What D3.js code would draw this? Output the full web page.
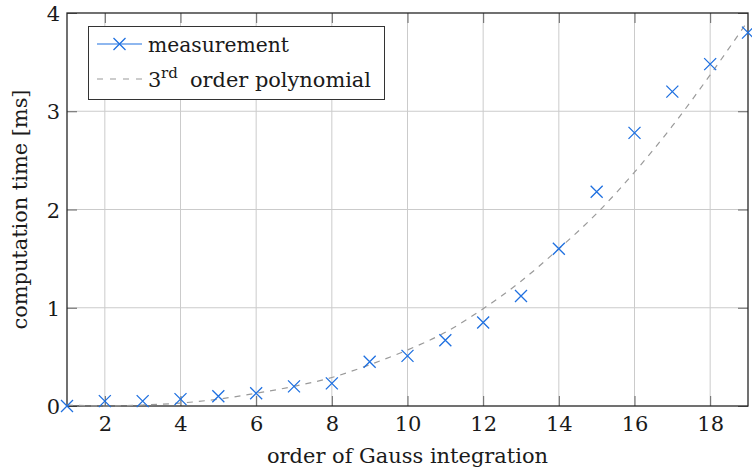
<!DOCTYPE html>
<html>
<head>
<meta charset="utf-8">
<script src="https://cdn.jsdelivr.net/npm/d3@7"></script>
<style>
  html, body { margin: 0; padding: 0; background: #fff; }
  svg { display: block; }
  svg text { font-family: "DejaVu Serif", serif; fill: #1a1a1a; }
</style>
</head>
<body>
<svg id="chart" width="752" height="471"></svg>
<script>
// Gauss integration order vs. measured computation time
const orders = [1, 2, 3, 4, 5, 6, 7, 8, 9, 10, 11, 12, 13, 14, 15, 16, 17, 18, 19];
const measuredMs = [0.00, 0.05, 0.05, 0.07, 0.10, 0.13, 0.20, 0.23, 0.45, 0.51, 0.67, 0.85, 1.12, 1.60, 2.18, 2.78, 3.20, 3.48, 3.80];
// cubic fit evaluated at each order
const fitMs = [0.01, 0.00, 0.01, 0.03, 0.07, 0.13, 0.20, 0.29, 0.42, 0.57, 0.75, 0.99, 1.27, 1.60, 1.96, 2.38, 2.85, 3.37, 3.92];

const xTicks = [2, 4, 6, 8, 10, 12, 14, 16, 18];
const yTicks = [0, 1, 2, 3, 4];
const xLabel = "order of Gauss integration";
const yLabel = "computation time [ms]";
const legendMeasurement = "measurement";

const svg = d3.select("#chart");
const plotLeft = 67, plotRight = 748, plotTop = 13, plotBottom = 406;
const x = d3.scaleLinear().domain([1, 19]).range([plotLeft, plotRight]);
const y = d3.scaleLinear().domain([0, 4]).range([plotBottom, plotTop]);

const blue = "#1f70e0";
const grey = "#9a9a9a";
const tickLen = 10;
const fontSize = "21px";

// grid
const grid = svg.append("g");
grid.selectAll("line.gx").data(xTicks).join("line")
  .attr("x1", d => x(d)).attr("x2", d => x(d))
  .attr("y1", plotTop).attr("y2", plotBottom)
  .attr("stroke", "#cbcbcb").attr("stroke-width", 1);
grid.selectAll("line.gy").data(yTicks.filter(d => d > 0 && d < 4)).join("line")
  .attr("x1", plotLeft).attr("x2", plotRight)
  .attr("y1", d => y(d)).attr("y2", d => y(d))
  .attr("stroke", "#cbcbcb").attr("stroke-width", 1);

// axes with inward ticks on all four sides
function styleAxis(g) {
  g.attr("font-family", null);
  g.select(".domain").remove();
  g.selectAll(".tick line").attr("stroke", "#666").attr("stroke-width", 1);
  g.selectAll(".tick text").style("font-size", fontSize).attr("fill", "#1a1a1a");
}
svg.append("g").attr("transform", `translate(0,${plotBottom})`)
  .call(d3.axisBottom(x).tickValues(xTicks).tickSize(-tickLen).tickPadding(0).tickFormat(d3.format("d")))
  .call(styleAxis)
  .call(g => g.selectAll(".tick text").attr("y", 25).attr("dy", 0));
svg.append("g").attr("transform", `translate(0,${plotTop})`)
  .call(d3.axisTop(x).tickValues(xTicks).tickSize(-tickLen).tickFormat(""))
  .call(styleAxis);
svg.append("g").attr("transform", `translate(${plotLeft},0)`)
  .call(d3.axisLeft(y).tickValues(yTicks).tickSize(-tickLen).tickFormat(d3.format("d")))
  .call(styleAxis)
  .call(g => g.selectAll(".tick text").attr("x", -7).attr("dy", "0.36em"));
svg.append("g").attr("transform", `translate(${plotRight},0)`)
  .call(d3.axisRight(y).tickValues(yTicks).tickSize(-tickLen).tickFormat(""))
  .call(styleAxis);

// frame
svg.append("rect")
  .attr("x", plotLeft).attr("y", plotTop)
  .attr("width", plotRight - plotLeft).attr("height", plotBottom - plotTop)
  .attr("fill", "none").attr("stroke", "#262626").attr("stroke-width", 1.3);

// fitted polynomial
const line = d3.line().x((d, i) => x(orders[i])).y(d => y(d)).curve(d3.curveMonotoneX);
svg.append("path")
  .attr("d", line(fitMs))
  .attr("fill", "none").attr("stroke", grey)
  .attr("stroke-width", 1.2).attr("stroke-dasharray", "6 6");

// measurement markers
const cross = 6;
function drawCross(g, cx, cy) {
  g.append("path")
    .attr("d", `M${cx - cross},${cy - cross}L${cx + cross},${cy + cross}M${cx - cross},${cy + cross}L${cx + cross},${cy - cross}`)
    .attr("stroke", blue).attr("stroke-width", 1.3).attr("fill", "none");
}
const marks = svg.append("g");
measuredMs.forEach((v, i) => drawCross(marks, x(orders[i]), y(v)));

// axis titles
svg.append("text")
  .attr("x", (plotLeft + plotRight) / 2).attr("y", 463)
  .attr("text-anchor", "middle").style("font-size", fontSize)
  .attr("textLength", 281).attr("lengthAdjust", "spacingAndGlyphs")
  .text(xLabel);
svg.append("text")
  .attr("transform", `translate(27,${(plotTop + plotBottom) / 2}) rotate(-90)`)
  .attr("text-anchor", "middle").style("font-size", fontSize)
  .attr("textLength", 240).attr("lengthAdjust", "spacingAndGlyphs")
  .text(yLabel);

// legend
const lg = svg.append("g");
lg.append("rect")
  .attr("x", 88.5).attr("y", 26.5).attr("width", 296).attr("height", 73)
  .attr("fill", "#fff").attr("stroke", "#333").attr("stroke-width", 1);
lg.append("line")
  .attr("x1", 97).attr("x2", 142).attr("y1", 44).attr("y2", 44)
  .attr("stroke", blue).attr("stroke-width", 1.2);
drawCross(lg, 119.5, 44);
lg.append("text")
  .attr("x", 148).attr("y", 52).style("font-size", fontSize)
  .attr("textLength", 141).attr("lengthAdjust", "spacingAndGlyphs")
  .text(legendMeasurement);
lg.append("line")
  .attr("x1", 97).attr("x2", 142).attr("y1", 79).attr("y2", 79)
  .attr("stroke", grey).attr("stroke-width", 1.2).attr("stroke-dasharray", "6 7");
lg.append("text").attr("x", 148).attr("y", 87).style("font-size", fontSize).text("3");
lg.append("text").attr("x", 161).attr("y", 78).style("font-size", "15px").text("rd");
lg.append("text").attr("x", 190).attr("y", 87).style("font-size", fontSize)
  .attr("textLength", 181).attr("lengthAdjust", "spacingAndGlyphs")
  .text("order polynomial");
</script>
</body>
</html>
